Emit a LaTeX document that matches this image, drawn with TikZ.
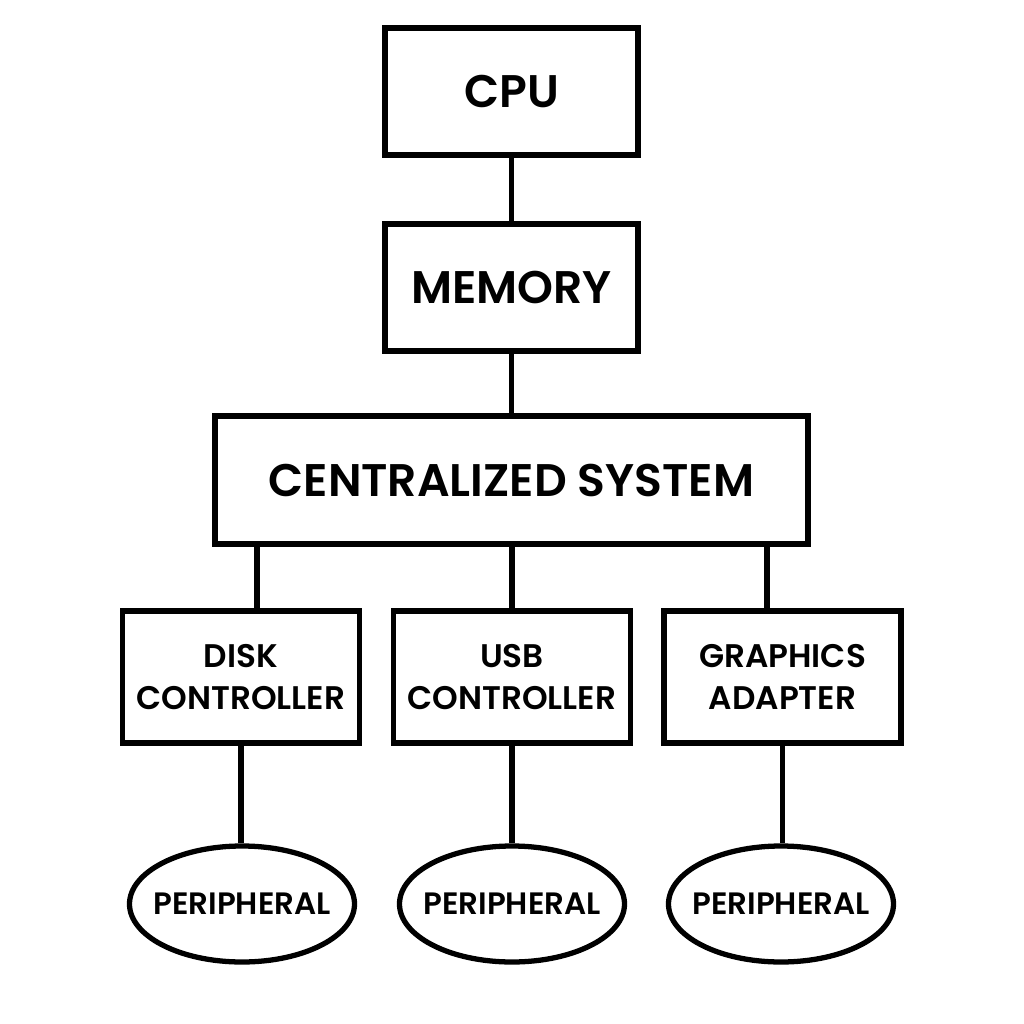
\documentclass[tikz,border=0pt]{standalone}
\usepackage{fontspec}
\setmainfont{Poppins}[BoldFont={* SemiBold}]
\usetikzlibrary{shapes.geometric}

\tikzset{
  bigbox/.style={draw, line width=1.5pt, minimum height=1.27cm, font=\bfseries\fontsize{13}{16}\selectfont},
  ctrlbox/.style={draw, line width=1.5pt, minimum width=2.37cm, minimum height=1.32cm, inner xsep=0pt, align=center, font=\bfseries\fontsize{9.3}{11.8}\selectfont},
  devnode/.style={draw, ellipse, line width=1.5pt, minimum width=2.25cm, minimum height=1.16cm, inner xsep=-1mm, inner ysep=0pt, font=\bfseries\fontsize{8.8}{11}\selectfont},
  wire/.style={line width=1.5pt}
}

\begin{document}
\begin{tikzpicture}
        \useasboundingbox[fill=white] (0,0) rectangle (10.24,-10.24);

        % Top of the hierarchy
        \node[bigbox, minimum width=2.53cm] (cpu) at (5.115,-0.915) {CPU};
        \node[bigbox, minimum width=2.53cm] (mem) at (5.115,-2.875) {MEMORY};
        \node[bigbox, minimum width=5.93cm, minimum height=1.28cm] (csys) at (5.115,-4.80) {CENTRALIZED SYSTEM};

        % Controllers
        \node[ctrlbox] (disk) at (2.41,-6.77) {DISK\\CONTROLLER};
        \node[ctrlbox] (usb) at (5.12,-6.77) {USB\\CONTROLLER};
        \node[ctrlbox] (gfx) at (7.825,-6.77) {GRAPHICS\\ADAPTER};

        % Peripherals
        \node[devnode] (perA) at (2.42,-9.04) {PERIPHERAL};
        \node[devnode] (perB) at (5.12,-9.04) {PERIPHERAL};
        \node[devnode] (perC) at (7.81,-9.04) {PERIPHERAL};

        % Connections
        \draw[wire] (cpu) -- (mem);
        \draw[wire] (mem) -- (csys);
        \draw[wire] ([xshift=1.6mm]disk.north) -- ([xshift=1.6mm]disk.north |- csys.south);
        \draw[wire] (usb.north) -- (usb.north |- csys.south);
        \draw[wire] ([xshift=-1.55mm]gfx.north) -- ([xshift=-1.55mm]gfx.north |- csys.south);
        \draw[wire] (disk.south) -- (disk.south |- perA.north);
        \draw[wire] (usb.south) -- (usb.south |- perB.north);
        \draw[wire] (gfx.south) -- (gfx.south |- perC.north);
      \end{tikzpicture}
\end{document}
